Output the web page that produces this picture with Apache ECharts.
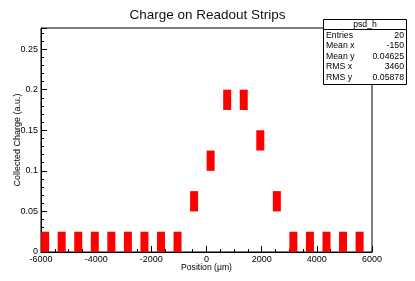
<!DOCTYPE html>
<html>
<head>
<meta charset="utf-8">
<script src="https://cdn.jsdelivr.net/npm/echarts@6/dist/echarts.min.js"></script>
<style>
html,body{margin:0;padding:0;background:#fff;}
#c{width:415px;height:281px;}
</style>
</head>
<body>
<div id="c"></div>
<script>
// Strip centre positions (µm)
const positions = [-5850, -5250, -4650, -4050, -3450, -2850, -2250, -1650, -1050, -450,
                   150, 750, 1350, 1950, 2550, 3150, 3750, 4350, 4950, 5550];
// Collected charge per strip (a.u.)
const charges = [0.0125, 0.0125, 0.0125, 0.0125, 0.0125, 0.0125, 0.0125, 0.0125, 0.0125, 0.0625,
                 0.1125, 0.1875, 0.1875, 0.1375, 0.0625, 0.0125, 0.0125, 0.0125, 0.0125, 0.0125];
// Uncertainty on charge (a.u.)
const chargeErr = [0.0125, 0.0125, 0.0125, 0.0125, 0.0125, 0.0125, 0.0125, 0.0125, 0.0125, 0.0125,
                   0.0125, 0.0125, 0.0125, 0.0125, 0.0125, 0.0125, 0.0125, 0.0125, 0.0125, 0.0125];
const halfWidth = 145;
// Stats box
const statsTitle = 'psd_h';
const statsLabels = ['Entries', 'Mean x', 'Mean y', 'RMS x', 'RMS y'];
const statsValues = ['20', '-150', '0.04625', '3460', '0.05878'];

const FONT = 'Liberation Sans, Arial, Helvetica, sans-serif';
const chart = echarts.init(document.getElementById('c'), null, {renderer: 'canvas'});

const data = positions.map((p, i) => [p, charges[i], chargeErr[i]]);

const graphics = [
  {type: 'rect', shape: {x: 323.5, y: 19.5, width: 83, height: 65},
   style: {fill: '#fff', stroke: '#000', lineWidth: 1}, z: 100},
  {type: 'line', shape: {x1: 323.5, y1: 29.5, x2: 406.5, y2: 29.5},
   style: {stroke: '#000', lineWidth: 1}, z: 101},
  {type: 'text', x: 365, y: 24.5, z: 101,
   style: {text: statsTitle, font: '8.7px ' + FONT, fill: '#000', align: 'center', verticalAlign: 'middle'}}
];
statsLabels.forEach((l, i) => {
  const y = 35.5 + i * 10.5;
  graphics.push({type: 'text', x: 326, y: y, z: 101,
    style: {text: l, font: '8.7px ' + FONT, fill: '#000', align: 'left', verticalAlign: 'middle'}});
  graphics.push({type: 'text', x: 404, y: y, z: 101,
    style: {text: statsValues[i], font: '8.7px ' + FONT, fill: '#000', align: 'right', verticalAlign: 'middle'}});
});

chart.setOption({
  animation: false,
  backgroundColor: '#fff',
  title: {
    text: 'Charge on Readout Strips', left: 'center', top: 3,
    textStyle: {fontFamily: FONT, fontSize: 13.5, fontWeight: 'normal', color: '#111'}
  },
  grid: {left: 41, right: 43, top: 28, bottom: 29, show: true, borderColor: '#000', borderWidth: 1, backgroundColor: 'transparent'},
  xAxis: {
    type: 'value', min: -6000, max: 6000, interval: 2000,
    name: 'Position (μm)', nameLocation: 'middle', nameGap: 11.5, nameMoveOverlap: false,
    nameTextStyle: {fontFamily: FONT, fontSize: 8.6, color: '#000'},
    axisLine: {show: true, onZero: false, lineStyle: {color: '#000', width: 1}},
    axisTick: {show: true, inside: true, length: 6, lineStyle: {color: '#000'}},
    minorTick: {show: true, splitNumber: 4, length: 3, lineStyle: {color: '#000'}},
    axisLabel: {fontFamily: FONT, fontSize: 9, color: '#000', margin: 3, formatter: v => String(v)},
    splitLine: {show: false}
  },
  yAxis: {
    type: 'value', min: 0, max: 0.276, interval: 0.05,
    name: 'Collected Charge (a.u.)', nameLocation: 'middle', nameGap: 19, nameMoveOverlap: false,
    nameTextStyle: {fontFamily: FONT, fontSize: 9, color: '#000'},
    axisLine: {show: true, onZero: false, lineStyle: {color: '#000', width: 1}},
    axisTick: {show: true, inside: true, length: 6, lineStyle: {color: '#000'}},
    minorTick: {show: true, splitNumber: 5, length: 3, lineStyle: {color: '#000'}},
    axisLabel: {fontFamily: FONT, fontSize: 9, color: '#000', margin: 3, showMaxLabel: false,
      formatter: v => (v > 0.26 ? '' : String(+v.toFixed(2)))},
    splitLine: {show: false}
  },
  series: [{
    type: 'custom',
    clip: true,
    data: data,
    renderItem: function (params, api) {
      const x = api.value(0), y = api.value(1), e = api.value(2);
      const p1 = api.coord([x - halfWidth, y + e]);
      const p2 = api.coord([x + halfWidth, y - e]);
      return {
        type: 'rect',
        shape: {x: p1[0], y: p1[1], width: p2[0] - p1[0], height: p2[1] - p1[1]},
        style: {fill: '#ff0000'}
      };
    }
  }],
  graphic: graphics
});
</script>
</body>
</html>
